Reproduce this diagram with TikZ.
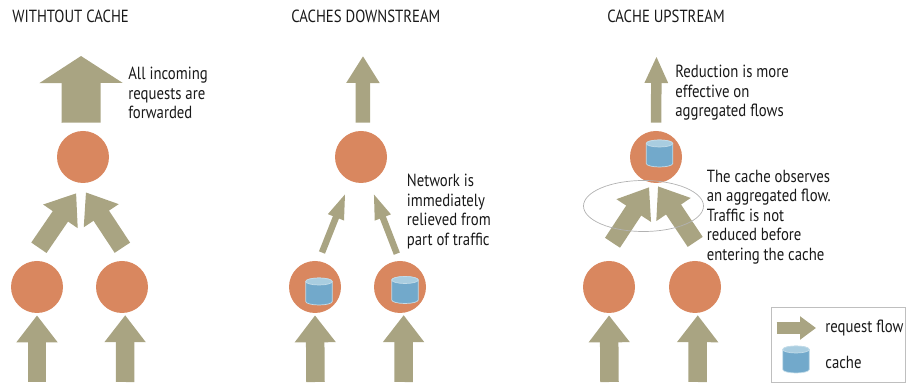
\documentclass[tikz,border=0pt]{standalone}
\usepackage{fontspec}
\setmainfont[FakeStretch=0.84]{PT Sans}
\usetikzlibrary{arrows.meta}
\definecolor{flowcolor}{HTML}{A9A482}
\definecolor{nodecolor}{HTML}{D9875F}
\definecolor{cachebody}{HTML}{72A9CB}
\definecolor{cachetop}{HTML}{A9CDE0}
\tikzset{
  flow/.style n args={3}{line width=#1cm,color=flowcolor,-{Triangle[length=#3cm,width=#2cm]}},
  proxy/.style={circle,fill=nodecolor,minimum size=1.04cm,inner sep=0pt},
  pics/cache/.style={code={
    \draw[cachetop!70!white,line width=.4pt,fill=cachebody] (-.265,.2) -- (-.265,-.2) arc (180:360:.265 and .07) -- (.265,.2) arc (0:180:.265 and .07) -- cycle;
    \draw[cachetop!70!white,line width=.4pt,fill=cachetop] (0,.2) ellipse (.265 and .07);
  }},
  title/.style={anchor=west,font=\fontsize{10}{11}\selectfont,text=black!90,inner sep=0pt},
  note/.style={anchor=west,align=left,font=\fontsize{10}{11.1}\selectfont,text=black!90,inner sep=0pt}
}
\begin{document}
\begin{tikzpicture}
\useasboundingbox (0,0) rectangle (18.12,7.68);

\node [title] (titlea) at (0.24,7.36) {WITHTOUT CACHE};
\node [title] (titleb) at (5.82,7.36) {CACHES DOWNSTREAM};
\node [title] (titlec) at (12.14,7.36) {CACHE UPSTREAM};

\node [proxy] (a0) at (1.66,4.54) {};
\node [proxy] (a1) at (0.74,1.94) {};
\node [proxy] (a2) at (2.44,1.94) {};
\node [proxy] (b0) at (7.22,4.54) {};
\node [proxy] (b1) at (6.30,1.94) {};
\node [proxy] (b2) at (8.00,1.94) {};
\node [proxy] (c0) at (13.12,4.54) {};
\node [proxy] (c1) at (12.18,1.94) {};
\node [proxy] (c2) at (13.90,1.94) {};

\pic at (6.38,1.85) {cache};
\pic at (8.10,1.88) {cache};
\pic at (13.19,4.61) {cache};

\coordinate (aout) at (1.62,6.56);
\coordinate (bout) at (7.26,6.56);
\coordinate (cout) at (13.13,6.56);
\coordinate (a1in) at (0.74,0.04);
\coordinate (a2in) at (2.50,0.04);
\coordinate (b1in) at (6.31,0.04);
\coordinate (b2in) at (8.07,0.04);
\coordinate (c1in) at (12.19,0.04);
\coordinate (c2in) at (13.95,0.04);

% outgoing
\draw[flow={.78}{1.64}{.54},shorten <=.16cm] (a0.94) -- (aout);
\draw[flow={.29}{.63}{.54},shorten <=.16cm] (b0.86) -- (bout);
\draw[flow={.21}{.43}{.54},shorten <=.16cm] (c0.north) -- (cout);

% between the levels
\draw[flow={.37}{.80}{.56},shorten <=.34cm,shorten >=.24cm] (a1.107) -- (a0.270);
\draw[flow={.37}{.80}{.56},shorten <=.36cm,shorten >=.22cm] (a2.67) -- (a0.263);
\draw[flow={.13}{.30}{.54},shorten <=.18cm,shorten >=.24cm] (b1.82) -- (b0.246);
\draw[flow={.13}{.30}{.54},shorten <=.15cm,shorten >=.22cm] (b2.91) -- (b0.288);
\draw[flow={.36}{.79}{.56},shorten <=.47cm,shorten >=.10cm] (c1.111) -- (c0.261);
\draw[flow={.36}{.79}{.56},shorten <=.60cm,shorten >=.07cm] (c2.50) -- (c0.270);

% incoming
\draw[flow={.37}{.79}{.54},shorten >=.04cm] (a1in) -- (a1.south);
\draw[flow={.37}{.79}{.54},shorten >=.04cm] (a2in) -- (a2.277);
\draw[flow={.37}{.79}{.54},shorten >=.04cm] (b1in) -- (b1.south);
\draw[flow={.37}{.79}{.54},shorten >=.04cm] (b2in) -- (b2.278);
\draw[flow={.37}{.79}{.54},shorten >=.04cm] (c1in) -- (c1.south);
\draw[flow={.37}{.79}{.54},shorten >=.04cm] (c2in) -- (c2.276);

\draw[black!30,line width=.4pt] (12.87,3.56) ellipse (1.2 and 0.51);

\node [note] (notea) at (2.56,5.82) {All incoming\\requests are\\forwarded};
\node [note] (noteb) at (8.13,3.45) {Network is\\immediately\\relieved from\\part of traffic};
\node [note] (notec) at (13.50,5.82) {Reduction is more\\effective on\\aggregated flows};
\node [note] (noted) at (14.13,3.34) {The cache observes\\an aggregated flow.\\Traffic is not\\reduced before\\entering the cache};

% legend
\draw[black!25,line width=.5pt] (15.43,0.04) rectangle (18.10,1.54);
\coordinate (legendin) at (15.53,1.12);
\node [note] (legendflow) at (16.50,1.12) {request flow};
\node [note] (legendcache) at (16.50,0.44) {cache};
\pic at (15.92,0.49) {cache};
\draw[flow={.23}{.45}{.32},shorten >=.18cm] (legendin) -- (legendflow.west);
\end{tikzpicture}
\end{document}
